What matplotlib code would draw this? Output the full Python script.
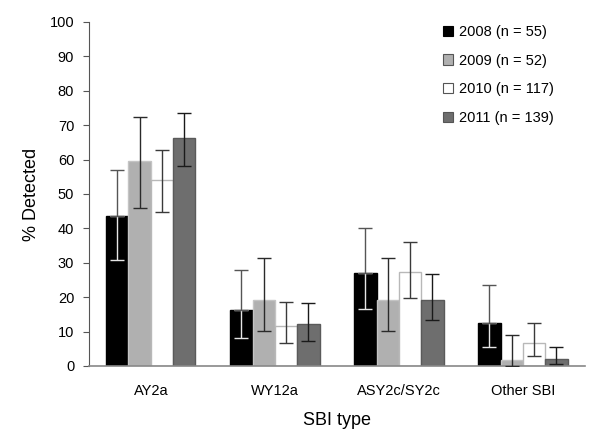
import numpy as np
import matplotlib
matplotlib.use("Agg")
import matplotlib.pyplot as plt
from matplotlib.patches import Patch

plt.rcParams["font.family"] = ["Liberation Sans", "DejaVu Sans"]

categories = ["AY2a", "WY12a", "ASY2c/SY2c", "Other SBI"]
years = ["2008 (n = 55)", "2009 (n = 52)", "2010 (n = 117)", "2011 (n = 139)"]

pct_2008 = [43.7, 16.4, 27.1, 12.6]
pct_2009 = [59.7, 19.1, 19.1, 1.7]
pct_2010 = [54.0, 11.7, 27.4, 6.6]
pct_2011 = [66.4, 12.2, 19.3, 1.9]

hi_2008 = [57.1, 27.8, 40.0, 23.5]
hi_2009 = [72.3, 31.5, 31.5, 8.9]
hi_2010 = [62.9, 18.7, 35.9, 12.5]
hi_2011 = [73.6, 18.4, 26.6, 5.6]

lo_2008 = [30.9, 8.1, 16.6, 5.5]
lo_2009 = [46.0, 10.1, 10.1, 0.0]
lo_2010 = [44.8, 6.7, 19.8, 3.0]
lo_2011 = [58.1, 7.4, 13.5, 0.5]

values = [pct_2008, pct_2009, pct_2010, pct_2011]
highs = [hi_2008, hi_2009, hi_2010, hi_2011]
lows = [lo_2008, lo_2009, lo_2010, lo_2011]

FACE = ["#000000", "#b0b0b0", "#ffffff", "#6e6e6e"]
EDGE = ["#000000", "#c4c4c4", "#b8b8b8", "#5a5a5a"]
ERRC = ["#555555", "#2a2a2a", "#3a3a3a", "#1a1a1a"]

fig = plt.figure(figsize=(6.0, 4.36), dpi=100)
ax = fig.add_axes([0.148, 0.1606, 0.827, 0.789])

x = np.arange(len(categories))
w = 0.18
for k in range(4):
    xs = x + (k - 1.5) * w
    v = np.array(values[k])
    hi = np.array(highs[k])
    lo = np.array(lows[k])
    ax.bar(xs, v, width=w, color=FACE[k], edgecolor=EDGE[k], lw=1.0,
           zorder=2)
    if k == 0:
        # the part of the bar inside the black column reads white
        ax.errorbar(xs, v, yerr=[v - lo, np.zeros_like(v)], fmt="none",
                    ecolor="#e6e6e6", elinewidth=1.0, capsize=5,
                    capthick=1.0, zorder=3)
        ax.errorbar(xs, v, yerr=[np.zeros_like(v), hi - v], fmt="none",
                    ecolor=ERRC[k], elinewidth=1.0, capsize=5,
                    capthick=1.0, zorder=3)
    else:
        ax.errorbar(xs, v, yerr=[v - lo, hi - v], fmt="none",
                    ecolor=ERRC[k], elinewidth=1.0, capsize=5,
                    capthick=1.0, zorder=3)

ax.set_xlim(-0.5, 3.5)
ax.set_ylim(0, 100)
ax.set_yticks(np.arange(0, 101, 10))
ax.set_xticks(x)
ax.set_xticklabels(categories, fontsize=10.5)
ax.tick_params(axis="y", labelsize=10.5, length=4.5, color="#555555", pad=6)
ax.tick_params(axis="x", length=0, pad=13)
for s in ["top", "right"]:
    ax.spines[s].set_visible(False)
ax.spines["left"].set_color("#555555")
ax.spines["bottom"].set_color("#888888")
ax.spines["bottom"].set_linewidth(1.2)

ax.set_ylabel("% Detected", fontsize=13, labelpad=7)
ax.set_xlabel("SBI type", fontsize=13, labelpad=10)

handles = [Patch(facecolor=FACE[k], edgecolor="#555555" if k else "#000000",
                 lw=0.8, label=years[k]) for k in range(4)]
ax.legend(handles=handles, loc="upper left",
          bbox_to_anchor=(443 / 600, 1 - 25 / 436),
          bbox_transform=fig.transFigure, borderpad=0, borderaxespad=0,
          frameon=False, fontsize=10.5, handlelength=0.7, handleheight=0.7,
          handletextpad=0.4, labelspacing=1.0)

fig.savefig("out.png", dpi=100)
